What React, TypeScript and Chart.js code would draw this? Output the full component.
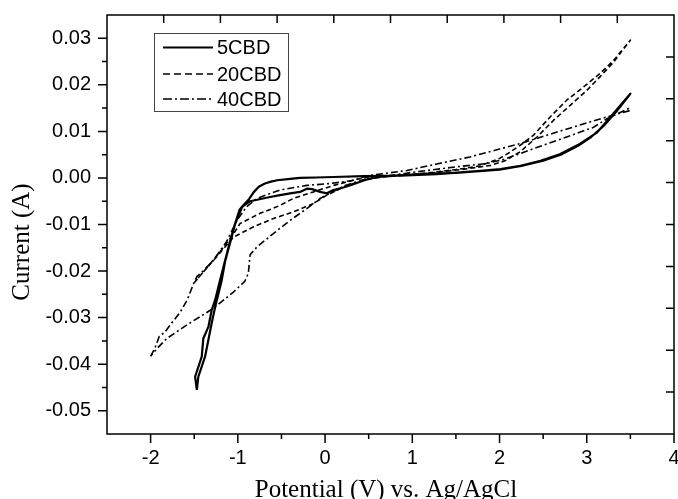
import React, { useEffect, useRef } from 'react';
import { Chart, registerables } from 'chart.js';

Chart.register(...registerables);

// ---------- data ----------
const seriesLabels = ['5CBD', '20CBD', '40CBD'];

// 5CBD (solid) – closed CV loop
const cbd5V = [
  -1.47, -1.49, -1.414, -1.396, -1.338, -1.30, -1.26, -1.204, -1.15, -1.09, -1.035, -0.98, -0.94, -0.87, -0.82,
  -0.76, -0.69, -0.62, -0.55, -0.40, -0.29, -0.10, 0.10, 0.44, 0.86, 1.28, 1.78, 2.01, 2.24, 2.47, 2.69, 2.92,
  3.12, 3.23, 3.35, 3.50,
  3.48, 3.35, 3.20, 3.05, 2.90, 2.70, 2.50, 2.25, 2.00, 1.50, 1.00, 0.60, 0.45, 0.30, 0.20, 0.095, 0.02, -0.057,
  -0.15, -0.21, -0.287, -0.40, -0.516, -0.63, -0.86, -0.95, -1.03, -1.09, -1.147, -1.185, -1.26, -1.30, -1.338,
  -1.376, -1.453, -1.47,
];
const cbd5I = [
  -0.0455, -0.0427, -0.0384, -0.0345, -0.0320, -0.0284, -0.0262, -0.0220, -0.0180, -0.0136, -0.0100, -0.0068,
  -0.0059, -0.0045, -0.0031, -0.0019, -0.0012, -0.0008, -0.0005, -0.0002, 0.0000, 0.0001, 0.0002, 0.0004, 0.0005,
  0.0008, 0.0015, 0.0019, 0.0026, 0.0037, 0.0051, 0.0073, 0.0098, 0.0122, 0.0148, 0.0181,
  0.0176, 0.0145, 0.0113, 0.0088, 0.0069, 0.0050, 0.0037, 0.0026, 0.0018, 0.0011, 0.0007, 0.0002, -0.0005,
  -0.0015, -0.0021, -0.0026, -0.0033, -0.0030, -0.0024, -0.0023, -0.0030, -0.0033, -0.0037, -0.0041, -0.0050,
  -0.0062, -0.0098, -0.0140, -0.0180, -0.0220, -0.0277, -0.0312, -0.0348, -0.0384, -0.0427, -0.0455,
];

// 20CBD (dashed)
const cbd20V = [
  -1.50, -1.40, -1.28, -1.15, -1.05, -0.975, -0.86, -0.745, -0.62, -0.516, -0.364, -0.134, 0.10, 0.30, 0.50,
  1.00, 1.28, 1.50, 1.78, 2.00, 2.10, 2.236, 2.39, 2.58, 2.77, 2.96, 3.15, 3.31, 3.50,
  3.45, 3.30, 3.15, 3.00, 2.81, 2.62, 2.43, 2.236, 2.15, 2.08, 1.90, 1.60, 1.28, 1.00, 0.70, 0.46, 0.23, 0.02,
  -0.134, -0.364, -0.59, -0.82, -1.05, -1.20, -1.35, -1.50,
];
const cbd20I = [
  -0.0225, -0.0203, -0.0176, -0.0146, -0.0120, -0.0098, -0.0087, -0.0076, -0.0067, -0.0059, -0.0044, -0.0030,
  -0.0016, -0.0006, 0.0002, 0.0008, 0.0013, 0.0018, 0.0026, 0.0042, 0.0053, 0.0070, 0.0092, 0.0131, 0.0167,
  0.0195, 0.0224, 0.0253, 0.0296,
  0.0284, 0.0247, 0.0217, 0.0188, 0.0156, 0.0124, 0.0088, 0.0056, 0.0047, 0.0038, 0.0027, 0.0019, 0.0012,
  0.0007, 0.0003, -0.0003, -0.0018, -0.0037, -0.0055, -0.0073, -0.0087, -0.0105, -0.0127, -0.0160, -0.0192,
  -0.0225,
];

// 40CBD (dash-dot)
const cbd40V = [
  -2.00, -1.95, -1.90, -1.84, -1.76, -1.66, -1.58, -1.51, -1.47, -1.40, -1.28, -1.13, -1.01, -0.90, -0.78,
  -0.52, -0.21, 0.06, 0.30, 0.50, 0.94, 1.28, 1.66, 2.00, 2.24, 2.58, 2.96, 3.23, 3.50,
  3.48, 3.23, 3.08, 2.77, 2.39, 2.20, 2.05, 1.85, 1.51, 1.00, 0.46, 0.23, 0.057, -0.057, -0.21, -0.40, -0.59,
  -0.78, -0.86, -0.87, -0.88, -0.92, -1.05, -1.28, -1.587, -1.815, -1.92, -2.00,
];
const cbd40I = [
  -0.0383, -0.0365, -0.0340, -0.0332, -0.0312, -0.0288, -0.0262, -0.0228, -0.0212, -0.0200, -0.0177, -0.0137,
  -0.0091, -0.0062, -0.0044, -0.0026, -0.0016, -0.0012, -0.0006, 0.0005, 0.0016, 0.0030, 0.0045, 0.0062,
  0.0074, 0.0094, 0.0116, 0.0131, 0.0145,
  0.0149, 0.0127, 0.0109, 0.0088, 0.0063, 0.0050, 0.0040, 0.0031, 0.0024, 0.0012, -0.0003, -0.0016, -0.0033,
  -0.0044, -0.0066, -0.0091, -0.0119, -0.0148, -0.0165, -0.0185, -0.0205, -0.0222, -0.0245, -0.0280, -0.0316,
  -0.0345, -0.0365, -0.0383,
];

// ---------- axes ----------
const xMin = -2.5;
const xMax = 4;
const yMin = -0.055;
const yMax = 0.035;
const xTickValues = [-2, -1, 0, 1, 2, 3, 4];
const xMinorTickValues = [-1.5, -0.5, 0.5, 1.5, 2.5, 3.5];
const yTickValues = [-0.05, -0.04, -0.03, -0.02, -0.01, 0, 0.01, 0.02, 0.03];
const yMinorTickValues = [-0.045, -0.035, -0.025, -0.015, -0.005, 0.005, 0.015, 0.025];
const frameTickValues = [1, 2, 3, 4, 5, 6, 7, 8, 9];
const xTitle = 'Potential (V) vs. Ag/AgCl';
const yTitle = 'Current (A)';

const SANS = '"Liberation Sans", Arial, sans-serif';
const SERIF = '"Liberation Serif", "Times New Roman", serif';

const toPoints = (xs: number[], ys: number[]) => xs.map((x, i) => ({ x, y: ys[i] }));

const plotDashes = [[], [5, 3], [7, 3, 2, 3]];
const legendDashes = [[], [7, 4], [9, 3, 2, 3]];
const lineWidths = [2.2, 1.6, 1.6];

const zeroPad = (s: any) => {
  s.paddingTop = 0;
  s.paddingBottom = 0;
  s.paddingLeft = 0;
  s.paddingRight = 0;
};

const framePlugin = {
  id: 'framePlugin',
  afterDraw(chart: any) {
    const { ctx, chartArea: a, scales } = chart;
    const sx = scales.x;
    const sy = scales.y;
    const sx2 = scales.x2;
    const sy2 = scales.y2;
    ctx.save();
    ctx.setLineDash([]);
    ctx.strokeStyle = '#000';
    ctx.lineWidth = 1.5;
    ctx.strokeRect(a.left, a.top, a.right - a.left, a.bottom - a.top);
    ctx.beginPath();
    const seg = (x1: number, y1: number, x2: number, y2: number) => {
      ctx.moveTo(x1, y1);
      ctx.lineTo(x2, y2);
    };
    yTickValues.forEach((v) => {
      const p = sy.getPixelForValue(v);
      seg(a.left - 9, p, a.left, p);
    });
    yMinorTickValues.forEach((v) => {
      const p = sy.getPixelForValue(v);
      seg(a.left - 5, p, a.left, p);
    });
    xTickValues.forEach((v) => {
      const p = sx.getPixelForValue(v);
      seg(p, a.bottom, p, a.bottom + 9);
    });
    xMinorTickValues.forEach((v) => {
      const p = sx.getPixelForValue(v);
      seg(p, a.bottom, p, a.bottom + 5);
    });
    frameTickValues.forEach((v) => {
      const p = sx2.getPixelForValue(v);
      seg(p, a.top, p, a.top + 8);
      const q = sy2.getPixelForValue(v);
      seg(a.right - 8, q, a.right, q);
    });
    ctx.stroke();

    // axis titles
    ctx.fillStyle = '#000';
    ctx.font = `25px ${SERIF}`;
    ctx.textAlign = 'center';
    ctx.textBaseline = 'alphabetic';
    ctx.fillText(xTitle, 386, 497);
    ctx.save();
    ctx.translate(28.5, 242);
    ctx.rotate(-Math.PI / 2);
    ctx.fillText(yTitle, 0, 0);
    ctx.restore();

    // legend
    const lx = 154.5;
    const ly = 33.5;
    ctx.lineWidth = 1;
    ctx.strokeStyle = '#444';
    ctx.strokeRect(lx, ly, 134, 78);
    const rows = [47.5, 74, 99];
    ctx.font = `20px ${SANS}`;
    ctx.textAlign = 'left';
    ctx.textBaseline = 'middle';
    chart.data.datasets.forEach((ds: any, i: number) => {
      ctx.beginPath();
      ctx.setLineDash(legendDashes[i]);
      ctx.lineWidth = lineWidths[i];
      ctx.strokeStyle = '#000';
      ctx.moveTo(163, rows[i]);
      ctx.lineTo(213, rows[i]);
      ctx.stroke();
      ctx.setLineDash([]);
      ctx.fillText(ds.label, 217, rows[i] + 1);
    });
    ctx.restore();
  },
};

export default function App() {
  const ref = useRef<HTMLCanvasElement | null>(null);
  useEffect(() => {
    if (!ref.current) return;
    const series = [
      toPoints(cbd5V, cbd5I),
      toPoints(cbd20V, cbd20I),
      toPoints(cbd40V, cbd40I),
    ];
    const chart = new Chart(ref.current, {
      type: 'scatter',
      data: {
        datasets: series.map((data, i) => ({
          label: seriesLabels[i],
          data,
          showLine: true,
          borderColor: '#000',
          backgroundColor: '#000',
          borderWidth: lineWidths[i],
          borderDash: plotDashes[i],
          borderJoinStyle: 'round',
          pointRadius: 0,
          pointHoverRadius: 0,
          fill: false,
          tension: 0,
          xAxisID: 'x',
          yAxisID: 'y',
        })),
      },
      options: {
        animation: false,
        responsive: false,
        devicePixelRatio: 1,
        layout: { padding: { left: 0, top: 15, right: 4, bottom: 0 } },
        plugins: { legend: { display: false }, tooltip: { enabled: false } },
        scales: {
          x: {
            type: 'linear',
            position: 'bottom',
            min: xMin,
            max: xMax,
            grid: { display: false, drawTicks: false },
            border: { display: false },
            afterBuildTicks: (s: any) => {
              s.ticks = xTickValues.map((value) => ({ value }));
            },
            afterFit: (s: any) => {
              s.height = 65;
              zeroPad(s);
            },
            ticks: {
              color: '#000',
              font: { family: SANS, size: 20 },
              padding: 12,
              maxRotation: 0,
              autoSkip: false,
              callback: (v: any) => String(v),
            },
          },
          y: {
            type: 'linear',
            position: 'left',
            min: yMin,
            max: yMax,
            grid: { display: false, drawTicks: false },
            border: { display: false },
            afterBuildTicks: (s: any) => {
              s.ticks = yTickValues.map((value) => ({ value }));
            },
            afterFit: (s: any) => {
              s.width = 107;
              zeroPad(s);
            },
            ticks: {
              color: '#000',
              font: { family: SANS, size: 20 },
              padding: 16,
              autoSkip: false,
              callback: (v: any) => Number(v).toFixed(2),
            },
          },
          x2: {
            type: 'linear', position: 'top', display: false, min: 0, max: 10,
            afterFit: (s: any) => zeroPad(s),
          },
          y2: {
            type: 'linear', position: 'right', display: false, min: 0, max: 10,
            afterFit: (s: any) => zeroPad(s),
          },
        },
      } as any,
      plugins: [framePlugin],
    });
    return () => chart.destroy();
  }, []);
  return (
    <div style={{ position: 'absolute', left: 0, top: 0, width: 678, height: 499, background: '#fff' }}>
      <canvas ref={ref} width={678} height={499} style={{ display: 'block' }} />
    </div>
  );
}
